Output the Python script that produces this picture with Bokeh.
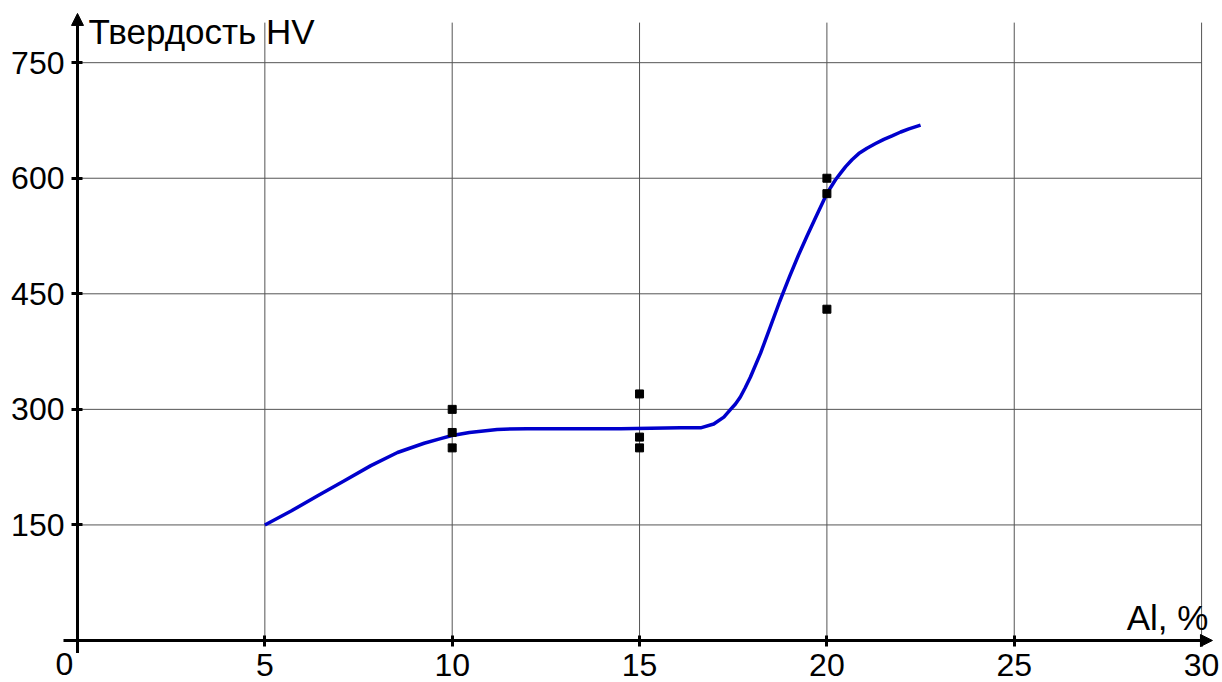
from bokeh.plotting import figure
from bokeh.models import Range1d, LinearAxis, FixedTicker, Label, Arrow, NormalHead
from bokeh.embed import file_html
from bokeh.resources import INLINE

# ---- data ----
curve_x = [5.0, 5.7, 6.41, 7.11, 7.83, 8.54, 9.25, 9.69, 10.0, 10.46, 11.2, 12.0, 12.9, 14.5,
           16.09, 16.63, 16.98, 17.25, 17.43, 17.56, 17.69, 17.82, 17.96, 18.23, 18.49, 18.74,
           19.0, 19.24, 19.47, 19.69, 19.96, 20.1, 20.23, 20.37, 20.5, 20.67, 20.85, 21.07,
           21.3, 21.52, 21.74, 21.97, 22.19, 22.5]
curve_y = [150, 168, 188, 207, 227, 244, 256, 262, 266, 270, 274, 275, 275, 275,
           276, 276, 281, 290, 300, 307, 316, 328, 342, 373, 407, 440,
           472, 500, 525, 548, 576, 588, 598, 607, 615, 624, 632, 639,
           645, 650.5, 655, 660, 664, 669]
pts_x = [10, 10, 10, 15, 15, 15, 20, 20, 20]
pts_y = [300, 270, 250, 320, 264, 250, 600, 580, 430]
x_ticks = [5, 10, 15, 20, 25, 30]
y_ticks = [150, 300, 450, 600, 750]
y_label = "Твердость HV"
x_label = "Al, %"
origin_label = "0"

FONT = "Liberation Sans"
TICK_SIZE = "32px"
TITLE_SIZE = "35px"

p = figure(frame_width=1222, frame_height=682,
           min_border_left=0, min_border_right=0, min_border_top=0, min_border_bottom=0,
           x_range=Range1d(-2.055, 30.558), y_range=Range1d(-54.52, 830.7),
           x_axis_type=None, y_axis_type=None,
           output_backend="svg", toolbar_location=None)
p.outline_line_color = None
p.xgrid.visible = False
p.ygrid.visible = False
p.background_fill_color = "white"
p.border_fill_color = "white"

# grid lines (from tick lists)
grid_top = 802
p.segment(x0=x_ticks, y0=[0] * len(x_ticks), x1=x_ticks, y1=[grid_top] * len(x_ticks),
          line_color="#555555", line_width=1)
p.segment(x0=[0] * len(y_ticks), y0=y_ticks, x1=[30] * len(y_ticks), y1=y_ticks,
          line_color="#555555", line_width=1)

# axes through the origin
xaxis = LinearAxis(fixed_location=0, ticker=FixedTicker(ticks=x_ticks))
yaxis = LinearAxis(fixed_location=0, ticker=FixedTicker(ticks=y_ticks))
for ax in (xaxis, yaxis):
    ax.axis_line_color = None
    ax.major_tick_line_color = "black"
    ax.major_tick_line_width = 3
    ax.major_tick_in = 5
    ax.major_tick_out = 6
    ax.minor_tick_line_color = None
    ax.major_label_text_font = FONT
    ax.major_label_text_font_size = TICK_SIZE
    ax.major_label_text_color = "black"
xaxis.major_label_standoff = 8
yaxis.major_label_standoff = 7
p.add_layout(xaxis, "below")
p.add_layout(yaxis, "left")

# axis lines with arrow heads
p.add_layout(Arrow(end=NormalHead(size=12, fill_color="black", line_color="black", line_width=1),
                   x_start=-0.374, y_start=0, x_end=30.29, y_end=0,
                   line_color="black", line_width=3))
p.add_layout(Arrow(end=NormalHead(size=12, fill_color="black", line_color="black", line_width=1),
                   x_start=0, y_start=-16.3, x_end=0, y_end=813.9,
                   line_color="black", line_width=3))

# curve & points
p.line(curve_x, curve_y, line_color="#0000cc", line_width=3.5, line_join="round")
p.scatter(pts_x, pts_y, marker="square", size=8, fill_color="black", line_color="black")

# labels
p.add_layout(Label(x=0.294, y=790, text=y_label, text_font=FONT,
                   text_font_size=TITLE_SIZE, text_align="left", text_baseline="middle",
                   text_color="black"))
p.add_layout(Label(x=30.18, y=29.2, text=x_label, text_font=FONT,
                   text_font_size=TITLE_SIZE, text_align="right", text_baseline="middle",
                   text_color="black"))
p.add_layout(Label(x=-0.347, y=-30, text=origin_label, text_font=FONT,
                   text_font_size=TICK_SIZE, text_align="center", text_baseline="middle",
                   text_color="black"))

open("out.html", "w").write(file_html(p, INLINE))
